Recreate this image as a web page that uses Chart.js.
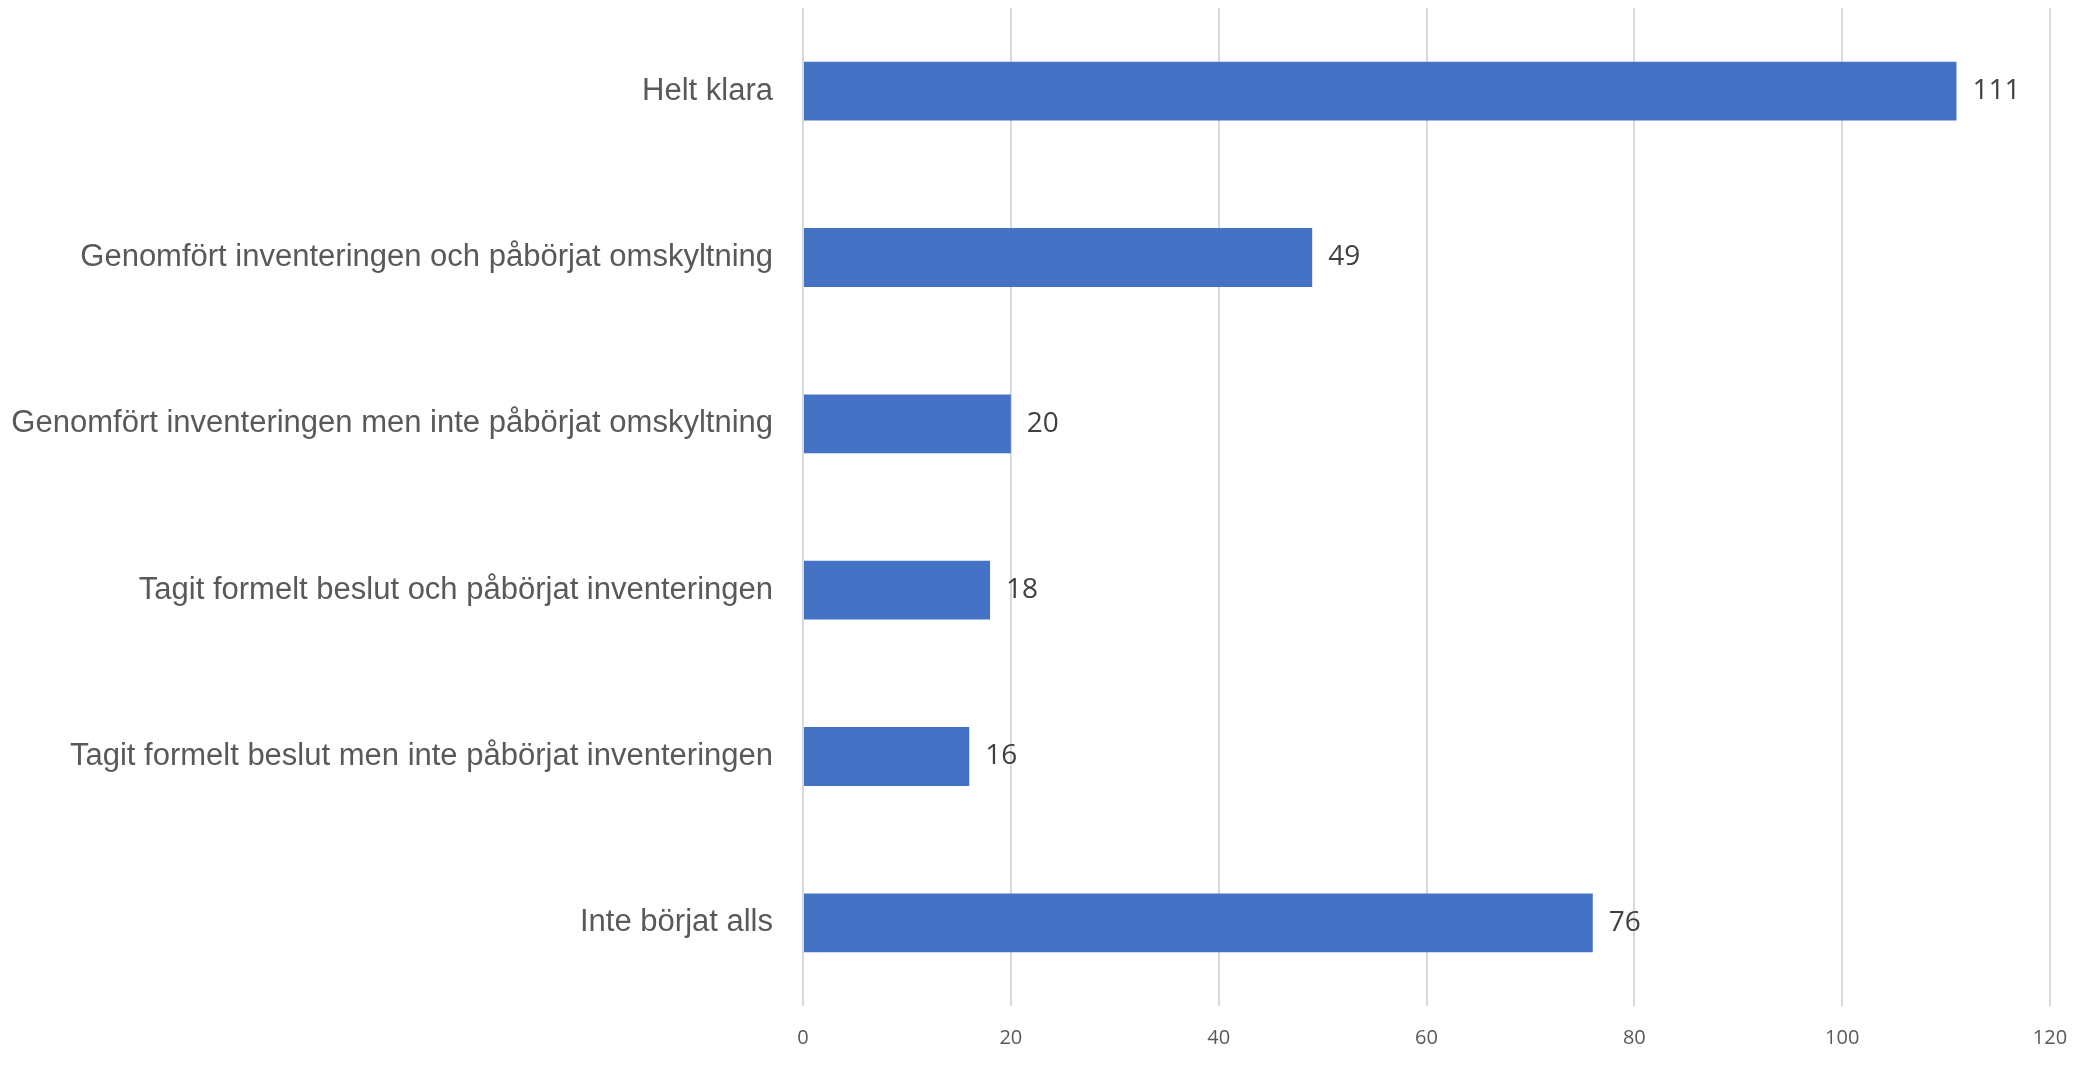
<!DOCTYPE html>
<html>
<head>
<meta charset="utf-8">
<script src="https://cdn.jsdelivr.net/npm/chart.js@4"></script>
<style>
html,body{margin:0;padding:0;background:#fff;overflow:hidden;}
#wrap{width:2085px;height:1070px;position:relative;}
</style>
</head>
<body>
<div id="wrap"><canvas id="c"></canvas></div>
<script>
const categories = [
  "Helt klara",
  "Genomfört inventeringen och påbörjat omskyltning",
  "Genomfört inventeringen men inte påbörjat omskyltning",
  "Tagit formelt beslut och påbörjat inventeringen",
  "Tagit formelt beslut men inte påbörjat inventeringen",
  "Inte börjat alls"
];
const values = [111, 49, 20, 18, 16, 76];
const xTicks = [0, 20, 40, 60, 80, 100, 120];

const valueLabels = {
  id: 'valueLabels',
  afterDatasetsDraw(chart) {
    const ctx = chart.ctx;
    const meta = chart.getDatasetMeta(0);
    ctx.save();
    ctx.font = '28px "Open Sans"';
    ctx.fillStyle = '#404040';
    ctx.textAlign = 'left';
    ctx.textBaseline = 'middle';
    meta.data.forEach((bar, i) => {
      ctx.fillText(String(values[i]), bar.x + 16, bar.y);
    });
    ctx.restore();
  }
};

new Chart(document.getElementById('c'), {
  type: 'bar',
  data: {
    labels: categories,
    datasets: [{
      data: values,
      backgroundColor: '#4472c4',
      borderWidth: 0,
      categoryPercentage: 1,
      barPercentage: 0.354
    }]
  },
  options: {
    indexAxis: 'y',
    responsive: true,
    maintainAspectRatio: false,
    animation: false,
    devicePixelRatio: 1,
    layout: { padding: { top: 8, right: 35, bottom: 0, left: 0 } },
    plugins: { legend: { display: false }, tooltip: { enabled: false } },
    scales: {
      x: {
        min: 0, max: 120,
        afterBuildTicks(scale) { scale.ticks = xTicks.map(v => ({ value: v })); },
        afterFit(scale) { scale.paddingLeft = 0; scale.paddingRight = 0; },
        grid: { color: '#d9d9d9', lineWidth: 2, drawTicks: false },
        border: { display: false },
        ticks: { padding: 20, color: '#595959', font: { family: '"Open Sans"', size: 20 } }
      },
      y: {
        grid: { display: false, drawTicks: false },
        border: { display: false },
        afterFit(scale) { scale.width = 803; scale.paddingTop = 0; scale.paddingBottom = 0; },
        ticks: { padding: 30, color: '#595959', font: { family: '"Liberation Sans", Arial', size: 31 } }
      }
    }
  },
  plugins: [valueLabels]
});
</script>
</body>
</html>
